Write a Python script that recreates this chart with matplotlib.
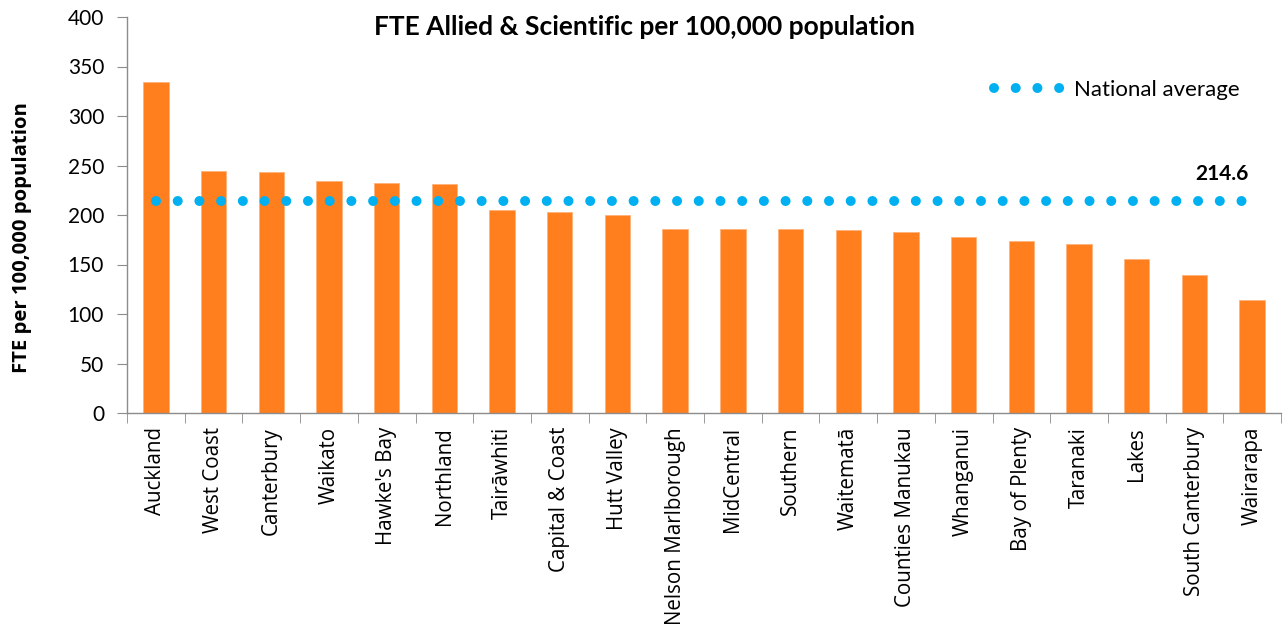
import numpy as np
import matplotlib
matplotlib.use('Agg')
import matplotlib.pyplot as plt
from matplotlib import font_manager as fm

# data
regions = ["Auckland", "West Coast", "Canterbury", "Waikato", "Hawke's Bay",
           "Northland", "Tairāwhiti", "Capital & Coast", "Hutt Valley",
           "Nelson Marlborough", "MidCentral", "Southern", "Waitematā",
           "Counties Manukau", "Whanganui", "Bay of Plenty", "Taranaki",
           "Lakes", "South Canterbury", "Wairarapa"]
fte_per_100k = [334.4, 244.4, 243.7, 234.3, 232.6, 231.6, 205.5, 203.5, 199.8,
                185.8, 185.8, 185.4, 184.4, 182.8, 177.7, 174.1, 170.4,
                156.0, 139.6, 114.2]
national_avg = 214.6
y_ticks = [0, 50, 100, 150, 200, 250, 300, 350, 400]

BAR = '#FF7F1E'
DOT = '#00B0F0'
AXIS = '#8C8C8C'


def static_font(filename, size, fallback_family, weight='normal'):
    # the variable Open Sans file renders oddly, so point at the static file
    for f in fm.fontManager.ttflist:
        if f.fname.endswith('/' + filename):
            return fm.FontProperties(fname=f.fname, size=size)
    return fm.FontProperties(family=fallback_family, size=size, weight=weight)


cat_font = static_font('OpenSans-Regular.ttf', 14.8, 'DejaVu Sans')
ylab_font = static_font('OpenSans-Bold.ttf', 14.6, 'DejaVu Sans', 'bold')

plt.rcParams['font.family'] = ['Lato', 'DejaVu Sans']

fig = plt.figure(figsize=(12.87, 6.33), dpi=100)
ax = fig.add_axes([127 / 1287, 1 - 413 / 633, (1281 - 127) / 1287, 396 / 633])

x = np.arange(len(regions))
ax.bar(x, fte_per_100k, width=0.44, color=BAR, edgecolor='#FFB27A', linewidth=0.6, zorder=2)

# national average as round-dot line across all categories
ax.plot(x, [national_avg] * len(x), color=DOT, linewidth=7.2,
        linestyle=(0, (0.001, 2.17)), dash_capstyle='round', zorder=3,
        label='National average')
ax.annotate(f"{national_avg:.1f}", xy=(x[-1], national_avg), xytext=(-30, 27),
            textcoords='offset pixels', ha='center', va='center',
            fontsize=15, fontweight='bold')

ax.set_xlim(-0.5, len(regions) - 0.5)
ax.set_ylim(0, 400)
ax.set_yticks(y_ticks)
ax.tick_params(axis='y', labelsize=15, length=7, color=AXIS, pad=9.5)

# category labels at bar centres, tick marks at the boundaries
ax.set_xticks(x)
ax.set_xticklabels(regions, rotation=90, fontproperties=cat_font)
ax.tick_params(axis='x', which='major', length=0, pad=10)
ax.set_xticks(np.arange(-0.5, len(regions)), minor=True)
ax.tick_params(axis='x', which='minor', length=7, color=AXIS)

for side in ['top', 'right']:
    ax.spines[side].set_visible(False)
for side in ['left', 'bottom']:
    ax.spines[side].set_color(AXIS)
    ax.spines[side].set_linewidth(1.0)

fig.text(644 / 1287, 1 - 27 / 633, "FTE Allied & Scientific per 100,000 population",
         ha='center', va='center', fontsize=19, fontweight='bold')
fig.text(22 / 1287, 1 - 238 / 633, "FTE per 100,000 population", rotation=90,
         ha='center', va='center', fontproperties=ylab_font)

leg = ax.legend(loc='center right', bbox_to_anchor=(0.9645, 0.8157), frameon=False,
                fontsize=16, handlelength=3.1, handletextpad=0.5,
                borderpad=0, borderaxespad=0)

fig.savefig('out.png', dpi=100)
